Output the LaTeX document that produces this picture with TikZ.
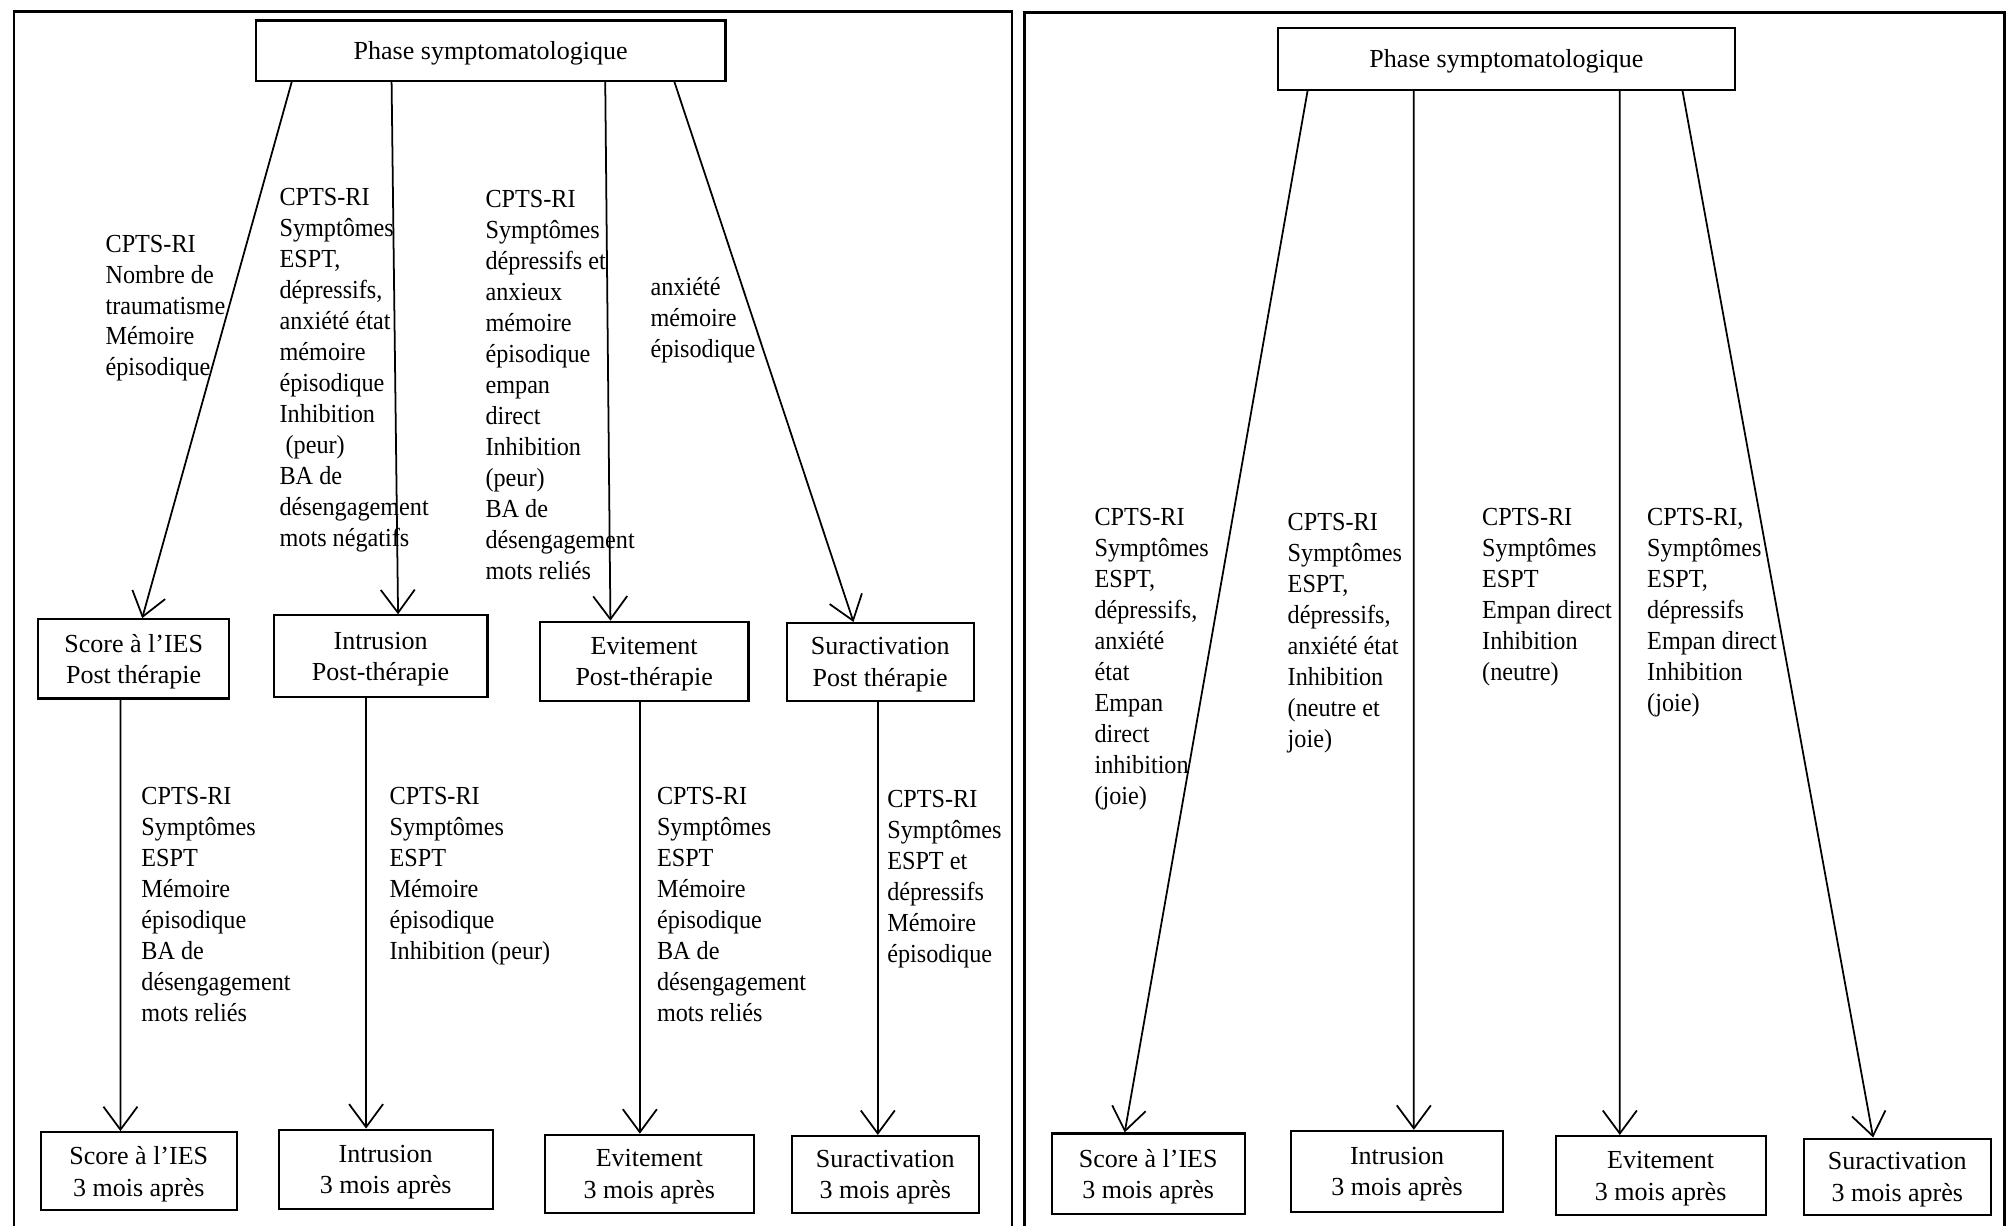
\documentclass[tikz,border=0pt]{standalone}
\usepackage{fontspec}
\setmainfont{Liberation Serif}
\newfontfamily\notefamily{Liberation Serif}[FakeStretch=0.93]
\usepackage{tikz}
\usetikzlibrary{arrows.meta,calc}

\begin{document}
\begin{tikzpicture}[x={(0.012793cm,0cm)},y={(0cm,-0.012793cm)},
    box/.style={draw,line width=0.6pt,align=center,inner sep=0pt,text depth=-0.6pt,font=\fontsize{7.4}{9}\selectfont},
    note/.style={anchor=north west,align=left,inner sep=0pt,font=\notefamily\fontsize{7.4}{8.81}\selectfont},
    arr/.style={line width=0.5pt,-{Straight Barb[length=2.3mm,width=3.4mm]}}]
      \useasboundingbox (0,0) rectangle (1568,958);
      \draw[line width=0.8pt] (11,958) -- (11,9) -- (791,9) -- (791,958);
      \draw[line width=0.8pt] (801,958) -- (801,10) -- (1567,10) -- (1567,958);

      \node[box,minimum width=4.695cm,minimum height=0.601cm] (phaseL) at (383.5,39.5) {Phase symptomatologique};
      \node[box,minimum width=1.906cm,minimum height=0.793cm] (postS) at (104.5,515) {Score à l’IES\\Post thérapie};
      \node[box,minimum width=2.136cm,minimum height=0.819cm] (postI) at (297.5,513) {Intrusion\\Post-thérapie};
      \node[box,minimum width=2.085cm,minimum height=0.793cm] (postE) at (503.5,517) {Evitement\\Post-thérapie};
      \node[box,minimum width=1.868cm,minimum height=0.780cm] (postA) at (688,517.5) {Suractivation\\Post thérapie};
      \node[box,minimum width=1.957cm,minimum height=0.780cm] (endS) at (108.5,915.5) {Score à l’IES\\3 mois après};
      \node[box,minimum width=2.136cm,minimum height=0.793cm] (endI) at (301.5,914) {Intrusion\\3 mois après};
      \node[box,minimum width=2.085cm,minimum height=0.780cm] (endE) at (507.5,917.5) {Evitement\\3 mois après};
      \node[box,minimum width=1.868cm,minimum height=0.768cm] (endA) at (692,918) {Suractivation\\3 mois après};

      \node[box,minimum width=4.567cm,minimum height=0.614cm] (phaseR) at (1177.5,46) {Phase symptomatologique};
      \node[box,minimum width=1.932cm,minimum height=0.806cm] (rS) at (897.5,917.5) {Score à l’IES\\3 mois après};
      \node[box,minimum width=2.124cm,minimum height=0.806cm] (rI) at (1092,915.5) {Intrusion\\3 mois après};
      \node[box,minimum width=2.098cm,minimum height=0.793cm] (rE) at (1298,919) {Evitement\\3 mois après};
      \node[box,minimum width=1.868cm,minimum height=0.768cm] (rA) at (1483,920) {Suractivation\\3 mois après};

      \draw[arr] ($(phaseL.south west)+(29,0)$) -- ($(postS.north west)+(82,0)$);
      \draw[arr] ($(phaseL.south west)+(107,0)$) -- ($(postI.north west)+(98,0)$);
      \draw[arr] ($(phaseL.south west)+(274,0)$) -- ($(postE.north west)+(56,0)$);
      \draw[arr] ($(phaseL.south west)+(328,0)$) -- ($(postA.north west)+(53,0)$);
      \draw[arr] ($(postS.south west)+(65,0)$) -- ($(endS.north west)+(63,0)$);
      \draw[arr] ($(postI.south west)+(73,0)$) -- ($(endI.north west)+(69,0)$);
      \draw[arr] ($(postE.south west)+(79,0)$) -- ($(endE.north west)+(75,0)$);
      \draw[arr] ($(postA.south west)+(72,0)$) -- ($(endA.north west)+(68,0)$);
      \draw[arr] ($(phaseR.south west)+(24,0)$) -- ($(rS.north west)+(58,0)$);
      \draw[arr] ($(phaseR.south west)+(107,0)$) -- ($(rI.north west)+(97,0)$);
      \draw[arr] ($(phaseR.south west)+(268,0)$) -- ($(rE.north west)+(51,0)$);
      \draw[arr] ($(phaseR.south west)+(317,0)$) -- ($(rA.north west)+(55,0)$);

      \node[note] (noteS) at (82,183) {CPTS-RI\\Nombre de\\traumatisme\\Mémoire\\épisodique};
      \node[note] (noteI) at (218,147) {CPTS-RI\\Symptômes\\ESPT,\\dépressifs,\\anxiété état\\mémoire\\épisodique\\Inhibition\\~(peur)\\BA de\\désengagement\\mots négatifs};
      \node[note] (noteE) at (379,148) {CPTS-RI\\Symptômes\\dépressifs et\\anxieux\\mémoire\\épisodique\\empan\\direct\\Inhibition\\(peur)\\BA de\\désengagement\\mots reliés};
      \node[note] (noteA) at (508,216) {anxiété\\mémoire\\épisodique};
      \node[note] (noteS3) at (110,615) {CPTS-RI\\Symptômes\\ESPT\\Mémoire\\épisodique\\BA de\\désengagement\\mots reliés};
      \node[note] (noteI3) at (304,615) {CPTS-RI\\Symptômes\\ESPT\\Mémoire\\épisodique\\Inhibition (peur)};
      \node[note] (noteE3) at (513,615) {CPTS-RI\\Symptômes\\ESPT\\Mémoire\\épisodique\\BA de\\désengagement\\mots reliés};
      \node[note] (noteA3) at (693,617) {CPTS-RI\\Symptômes\\ESPT et\\dépressifs\\Mémoire\\épisodique};

      \node[note] (noteRS) at (855,397) {CPTS-RI\\Symptômes\\ESPT,\\dépressifs,\\anxiété\\état\\Empan\\direct\\inhibition\\(joie)};
      \node[note] (noteRI) at (1006,401) {CPTS-RI\\Symptômes\\ESPT,\\dépressifs,\\anxiété état\\Inhibition\\(neutre et\\joie)};
      \node[note] (noteRE) at (1158,397) {CPTS-RI\\Symptômes\\ESPT\\Empan direct\\Inhibition\\(neutre)};
      \node[note] (noteRA) at (1287,397) {CPTS-RI,\\Symptômes\\ESPT,\\dépressifs\\Empan direct\\Inhibition\\(joie)};
    \end{tikzpicture}
\end{document}
